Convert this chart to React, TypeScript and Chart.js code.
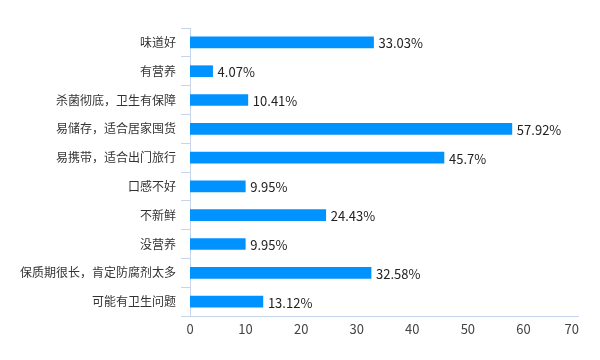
import React, { useEffect, useRef } from "react";
import { Chart, registerables } from "chart.js";

Chart.register(...registerables);

const categories = [
  "味道好",
  "有营养",
  "杀菌彻底，卫生有保障",
  "易储存，适合居家囤货",
  "易携带，适合出门旅行",
  "口感不好",
  "不新鲜",
  "没营养",
  "保质期很长，肯定防腐剂太多",
  "可能有卫生问题",
];
const values = [33.03, 4.07, 10.41, 57.92, 45.7, 9.95, 24.43, 9.95, 32.58, 13.12];
const valueLabels = ["33.03%", "4.07%", "10.41%", "57.92%", "45.7%", "9.95%", "24.43%", "9.95%", "32.58%", "13.12%"];
const xMin = 0;
const xMax = 70;
const xStep = 10;

const FONT = '"Microsoft YaHei", "Noto Sans CJK SC", sans-serif';
const AXIS_COLOR = "#c6d5ea";

const labelPlugin = {
  id: "valueLabels",
  afterDatasetsDraw(chart: any) {
    const ctx = chart.ctx;
    const meta = chart.getDatasetMeta(0);
    ctx.save();
    ctx.font = `13px ${FONT}`;
    ctx.fillStyle = "#222";
    ctx.textAlign = "left";
    ctx.textBaseline = "middle";
    meta.data.forEach((bar: any, i: number) => {
      ctx.fillText(valueLabels[i], bar.x + 5, bar.y + 1);
    });
    ctx.restore();
  },
  afterDraw(chart: any) {
    const { ctx, chartArea } = chart;
    const xs = chart.scales.x;
    ctx.save();
    ctx.strokeStyle = AXIS_COLOR;
    ctx.lineWidth = 1;
    ctx.beginPath();
    ctx.moveTo(chartArea.left - 9, chartArea.bottom + 0.5);
    ctx.lineTo(chartArea.right, chartArea.bottom + 0.5);
    ctx.stroke();
    ctx.font = `13px ${FONT}`;
    ctx.fillStyle = "#444";
    ctx.textBaseline = "middle";
    xs.ticks.forEach((t: any) => {
      const label = String(t.value);
      const px = xs.getPixelForValue(t.value);
      const w = ctx.measureText(label).width;
      let left = px - w / 2;
      if (left + w > chartArea.right) left = chartArea.right - w;
      ctx.textAlign = "left";
      ctx.fillText(label, left, chartArea.bottom + 13);
    });
    ctx.restore();
  },
};

export default function App() {
  const ref = useRef<HTMLCanvasElement | null>(null);
  useEffect(() => {
    if (!ref.current) return;
    const chart = new Chart(ref.current, {
      type: "bar",
      data: {
        labels: categories,
        datasets: [
          {
            data: values,
            backgroundColor: "#0092FF",
            barThickness: 11,
          },
        ],
      },
      options: {
        indexAxis: "y",
        animation: false,
        responsive: true,
        maintainAspectRatio: false,
        layout: { padding: { top: 28, right: 21, left: 0, bottom: 0 } },
        plugins: {
          legend: { display: false },
          tooltip: { enabled: false },
        },
        scales: {
          x: {
            min: xMin,
            max: xMax,
            ticks: {
              stepSize: xStep,
              display: false,
            },
            grid: { display: false },
            border: { display: false },
            afterFit(scale: any) {
              scale.height = 44;
            },
          },
          y: {
            offset: true,
            ticks: {
              color: "#333",
              font: { family: FONT, size: 12 },
              padding: 5,
            },
            grid: {
              drawOnChartArea: false,
              tickLength: 9,
              color: AXIS_COLOR,
              offset: true,
            },
            border: { display: true, color: AXIS_COLOR },
            afterFit(scale: any) {
              scale.width = 190;
            },
          },
        },
      },
      plugins: [labelPlugin],
    });
    return () => chart.destroy();
  }, []);
  return (
    <div style={{ position: "fixed", left: 0, top: 0, width: 600, height: 360, background: "#fff" }}>
      <canvas ref={ref} />
    </div>
  );
}
